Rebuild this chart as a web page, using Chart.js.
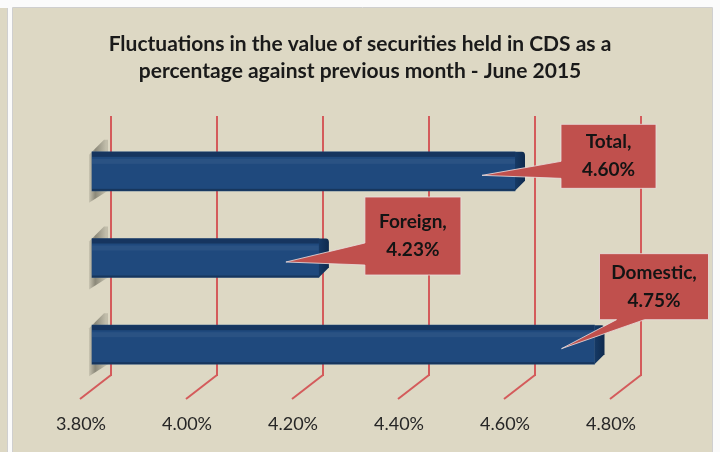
<!DOCTYPE html>
<html>
<head>
<meta charset="utf-8">
<script src="https://cdn.jsdelivr.net/npm/chart.js@4.4.0/dist/chart.umd.min.js"></script>
<style>
  html, body { margin: 0; padding: 0; background: #fff; }
  #wrap { width: 720px; height: 452px; }
</style>
</head>
<body>
<div id="wrap"><canvas id="myChart"></canvas></div>
<script>
// Data
let categories = ['Total', 'Foreign', 'Domestic'];
let changes = [4.60, 4.23, 4.75];
let tickValues = [3.80, 4.00, 4.20, 4.40, 4.60, 4.80];
let titleLines = ['Fluctuations in the value of securities held in CDS as a',
                  'percentage against previous month - June 2015'];

// Callout layout: box offset from the pointer tip, box size, side the pointer leaves from
let callouts = [
    { dx: 79, dy: -51, w: 95, h: 64, side: 'left', a: 37, b: 54 },
    { dx: 79, dy: -65, w: 96, h: 78, side: 'left', a: 46, b: 68 },
    { dx: 38, dy: -95, w: 109, h: 66, side: 'bottom', a: 17, b: 45 }
];

const beige = '#ddd8c4';
const gridRed = '#d45b5b';
const barBlue = '#1f497d';
const shift = { x: -20, y: 12 };   // 3D offset of the bars against the back wall

// Panel background and frame
const panelBg = {
    id: 'panelBg',
    beforeDraw(chart) {
        const c = chart.ctx;
        c.save();
        c.fillStyle = '#fbfbfb';
        c.fillRect(0, 0, chart.width, chart.height);
        c.fillStyle = beige;
        c.fillRect(0, 8, 7, chart.height - 8);
        c.fillRect(13, 8, 699, chart.height - 8);
        c.strokeStyle = '#cfcfcf';
        c.lineWidth = 1;
        c.beginPath();
        c.moveTo(7.5, 8); c.lineTo(7.5, chart.height);
        c.moveTo(12.5, chart.height); c.lineTo(12.5, 7.5); c.lineTo(712.5, 7.5); c.lineTo(712.5, chart.height);
        c.stroke();
        c.restore();
    }
};

// Slanted floor part of the gridlines, bar shadows and 3D faces
const bars3d = {
    id: 'bars3d',
    beforeDatasetsDraw(chart) {
        const c = chart.ctx;
        const xs = chart.scales.x;
        const bottom = chart.chartArea.bottom;
        c.save();
        c.strokeStyle = gridRed;
        c.lineWidth = 2;
        xs.ticks.forEach(t => {
            const px = xs.getPixelForValue(t.value);
            c.beginPath();
            c.moveTo(px, bottom - 1);
            c.lineTo(px - 31, bottom + 23);
            c.stroke();
        });
        c.restore();

        c.save();
        c.translate(shift.x, shift.y);
        chart.getDatasetMeta(0).data.forEach(el => {
            const p = el.getProps(['x', 'y', 'base', 'height'], true);
            const top = p.y - p.height / 2, bot = p.y + p.height / 2;
            const g = c.createLinearGradient(p.base - 4, 0, p.base + 14, 0);
            g.addColorStop(0, 'rgba(40,40,30,0.05)');
            g.addColorStop(0.4, 'rgba(40,40,30,0.45)');
            g.addColorStop(1, 'rgba(40,40,30,0.15)');
            c.fillStyle = g;
            c.beginPath();
            c.moveTo(p.base - 3, top + 3);
            c.lineTo(p.base + 12, top - 12);
            c.lineTo(p.base + 16, top - 12);
            c.lineTo(p.base + 16, bot);
            c.lineTo(p.base - 3, bot + 12);
            c.closePath();
            c.fill();
        });
        // translation stays on while the bars are drawn
    },
    afterDatasetsDraw(chart) {
        const c = chart.ctx;
        chart.getDatasetMeta(0).data.forEach(el => {
            const p = el.getProps(['x', 'y', 'base', 'height'], true);
            const top = p.y - p.height / 2, bot = p.y + p.height / 2;
            c.fillStyle = 'rgba(10,25,50,0.4)';
            c.fillRect(p.base, top, p.x - p.base, 5);
            c.fillStyle = 'rgba(255,255,255,0.05)';
            c.fillRect(p.base, top + 7, p.x - p.base, 5);
            c.fillStyle = 'rgba(0,0,0,0.25)';
            c.fillRect(p.base, bot - 2, p.x - p.base, 2);
            // right side face
            const g = c.createLinearGradient(p.x, 0, p.x + 10, 0);
            g.addColorStop(0, '#163a66');
            g.addColorStop(1, '#0f2a4d');
            c.fillStyle = g;
            c.beginPath();
            c.moveTo(p.x, top);
            c.lineTo(p.x + 7, top);
            c.quadraticCurveTo(p.x + 10, top, p.x + 10, top + 4);
            c.lineTo(p.x + 10, bot - 10);
            c.lineTo(p.x, bot);
            c.closePath();
            c.fill();
        });
        c.restore();
    }
};

// Red data-label callouts pointing into each bar
const calloutPlugin = {
    id: 'calloutPlugin',
    afterDraw(chart) {
        const c = chart.ctx;
        c.save();
        chart.getDatasetMeta(0).data.forEach((el, i) => {
            const p = el.getProps(['x', 'y'], true);
            const cfg = callouts[i];
            const tipX = p.x + shift.x - 33;
            const tipY = p.y + shift.y + 4;
            const L = tipX + cfg.dx, T = tipY + cfg.dy, R = L + cfg.w, B = T + cfg.h;
            c.beginPath();
            c.moveTo(L, T);
            c.lineTo(R, T);
            c.lineTo(R, B);
            if (cfg.side === 'bottom') {
                c.lineTo(L + cfg.b, B);
                c.lineTo(tipX, tipY);
                c.lineTo(L + cfg.a, B);
                c.lineTo(L, B);
            } else {
                c.lineTo(L, B);
                c.lineTo(L, T + cfg.b);
                c.lineTo(tipX, tipY);
                c.lineTo(L, T + cfg.a);
            }
            c.closePath();
            c.fillStyle = '#c0504d';
            c.fill();
            c.strokeStyle = 'rgba(235,225,225,0.8)';
            c.lineWidth = 1;
            c.stroke();

            c.fillStyle = '#141414';
            c.font = 'bold 19px Lato';
            c.textAlign = 'center';
            c.textBaseline = 'middle';
            const cx = (L + R) / 2, cy = (T + B) / 2;
            c.fillText(categories[i] + ',', cx, cy - 14);
            c.fillText(changes[i].toFixed(2) + '%', cx, cy + 14);
        });
        c.restore();
    }
};

let ctx = document.getElementById('myChart').getContext('2d');
let chart = new Chart(ctx, {
    type: 'bar',
    data: {
        labels: categories,
        datasets: [{
            label: 'Change vs previous month',
            data: changes,
            base: 3.8,
            backgroundColor: barBlue,
            borderWidth: 0,
            barThickness: 39,
            clip: false
        }]
    },
    options: {
        indexAxis: 'y',
        responsive: true,
        maintainAspectRatio: false,
        animation: false,
        layout: { padding: { left: 79, right: 79, top: 0, bottom: 0 } },
        plugins: {
            legend: { display: false },
            tooltip: { enabled: false },
            title: {
                display: true,
                text: titleLines,
                color: '#1a1a1a',
                font: { family: 'Lato', size: 21, weight: 'bold', lineHeight: 1.286 },
                padding: { top: 31, bottom: 31 }
            }
        },
        scales: {
            x: {
                min: 3.8,
                max: 4.8,
                afterBuildTicks: s => { s.ticks = tickValues.map(v => ({ value: v })); },
                afterFit: s => { s.height = 76; },
                grid: { color: gridRed, lineWidth: 2, drawTicks: false },
                border: { display: false },
                ticks: {
                    padding: 37,
                    labelOffset: -30,
                    color: '#262626',
                    font: { family: 'Lato', size: 18 },
                    callback: v => Number(v).toFixed(2) + '%'
                }
            },
            y: {
                afterFit: s => { s.width = 32; },
                grid: { display: false },
                border: { display: false },
                ticks: { display: false }
            }
        }
    },
    plugins: [panelBg, bars3d, calloutPlugin]
});
</script>
</body>
</html>
